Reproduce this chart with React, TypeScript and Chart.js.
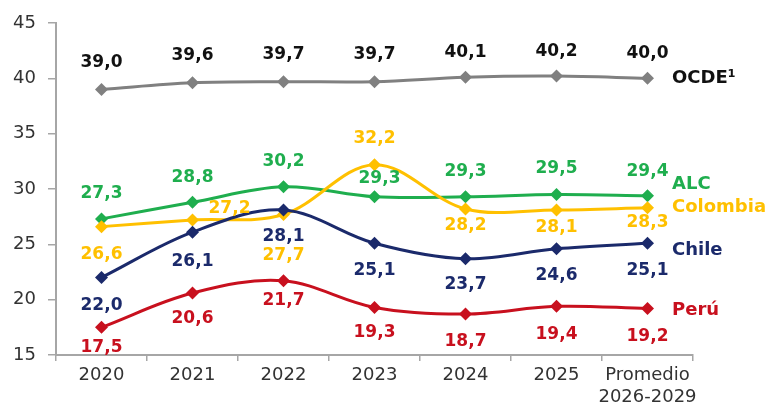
import React, { useEffect, useRef } from "react";
import { Chart, registerables } from "chart.js";

Chart.register(...registerables);

// ---- data ----
const categories: (string | string[])[] = ["2020", "2021", "2022", "2023", "2024", "2025", ["Promedio", "2026-2029"]];
const seriesNames = ["OCDE¹", "ALC", "Colombia", "Chile", "Perú"];
const ocde = [39.0, 39.6, 39.7, 39.7, 40.1, 40.2, 40.0];
const alc = [27.3, 28.8, 30.2, 29.3, 29.3, 29.5, 29.4];
const colombia = [26.6, 27.2, 27.7, 32.2, 28.2, 28.1, 28.3];
const chile = [22.0, 26.1, 28.1, 25.1, 23.7, 24.6, 25.1];
const peru = [17.5, 20.6, 21.7, 19.3, 18.7, 19.4, 19.2];
const yTicks = { min: 15, max: 45, step: 5 };

// ---- styles / label placement ----
const lineColors = ["#808080", "#1fae4e", "#ffc000", "#1b2a6b", "#c8101e"];
const labelColors = ["#111111", "#1fae4e", "#ffc000", "#1b2a6b", "#c8101e"];
const labelDy = [
  [-27, -27, -27, -27, -25, -25, -25],
  [-25, -25, -25, -18, -25, -26, -24],
  [28, -11, 41, -26, 17, 18, 15],
  [28, 29, 27, 27, 26, 27, 27],
  [20, 26, 20, 25, 28, 28, 28],
];
const labelDx = [
  [0, 0, 0, 0, 0, 0, 0],
  [0, 0, 0, 5, 0, 0, 0],
  [0, 37, 0, 0, 0, 0, 0],
  [0, 0, 0, 0, 0, 0, 0],
  [0, 0, 0, 0, 0, 0, 0],
];
const nameDy = [0, -11, 0, 7, 2];
const nameX = 672;

const fmt = (v: number) => v.toFixed(1).replace(".", ",");

const labelPlugin = {
  id: "valueLabels",
  afterDatasetsDraw(chart: any) {
    const ctx = chart.ctx;
    ctx.save();
    chart.data.datasets.forEach((ds: any, di: number) => {
      const idx = ds.seriesIndex;
      const meta = chart.getDatasetMeta(di);
      ctx.font = "bold 17px 'DejaVu Sans'";
      ctx.textAlign = "center";
      ctx.textBaseline = "middle";
      ctx.fillStyle = labelColors[idx];
      meta.data.forEach((pt: any, i: number) => {
        ctx.fillText(fmt(ds.data[i]), pt.x + labelDx[idx][i], pt.y + labelDy[idx][i]);
      });
      const last = meta.data[meta.data.length - 1];
      ctx.font = "bold 18px 'DejaVu Sans'";
      ctx.textAlign = "left";
      ctx.fillStyle = labelColors[idx];
      ctx.fillText(seriesNames[idx], nameX, last.y + nameDy[idx]);
    });
    ctx.restore();
  },
};

export default function App() {
  const ref = useRef<HTMLCanvasElement>(null);
  useEffect(() => {
    if (!ref.current) return;
    const all = [ocde, alc, colombia, chile, peru];
    const order = [4, 3, 2, 1, 0];
    const chart = new Chart(ref.current, {
      type: "line",
      data: {
        labels: categories as any,
        datasets: order.map((k) => ({
          label: seriesNames[k],
          seriesIndex: k,
          data: all[k],
          borderColor: lineColors[k],
          backgroundColor: lineColors[k],
          borderWidth: 3,
          pointStyle: "rectRot",
          pointRadius: 6.5,
          pointBorderWidth: 0,
          pointBackgroundColor: lineColors[k],
          tension: 0.35,
          fill: false,
        })) as any,
      },
      options: {
        animation: false,
        responsive: false,
        events: [],
        layout: { padding: { left: 0, top: 23, right: 80, bottom: 0 } },
        plugins: { legend: { display: false }, tooltip: { enabled: false } },
        scales: {
          x: {
            type: "category",
            offset: true,
            afterFit: (s: any) => {
              s.height = 50;
            },
            grid: {
              display: true,
              drawOnChartArea: false,
              drawTicks: true,
              tickLength: 6,
              color: "#a6a6a6",
              lineWidth: 1.5,
              offset: true,
            },
            border: { display: true, color: "#a6a6a6", width: 2 },
            ticks: {
              color: "#333333",
              font: { family: "'DejaVu Sans'", size: 18, lineHeight: 1.2 },
              padding: 4,
              maxRotation: 0,
              autoSkip: false,
            },
          },
          y: {
            min: yTicks.min,
            max: yTicks.max,
            afterFit: (s: any) => {
              s.width = 56;
            },
            grid: {
              display: true,
              drawOnChartArea: false,
              drawTicks: true,
              tickLength: 8,
              color: "#a6a6a6",
              lineWidth: 1.5,
            },
            border: { display: true, color: "#a6a6a6", width: 2 },
            ticks: {
              stepSize: yTicks.step,
              color: "#333333",
              font: { family: "'DejaVu Sans'", size: 18 },
              padding: 12,
            },
          },
        },
      },
      plugins: [labelPlugin],
    });
    return () => chart.destroy();
  }, []);
  return (
    <div style={{ position: "absolute", left: 0, top: 0, width: 773, height: 405, background: "#fff" }}>
      <canvas ref={ref} width={773} height={405} style={{ display: "block" }} />
    </div>
  );
}
